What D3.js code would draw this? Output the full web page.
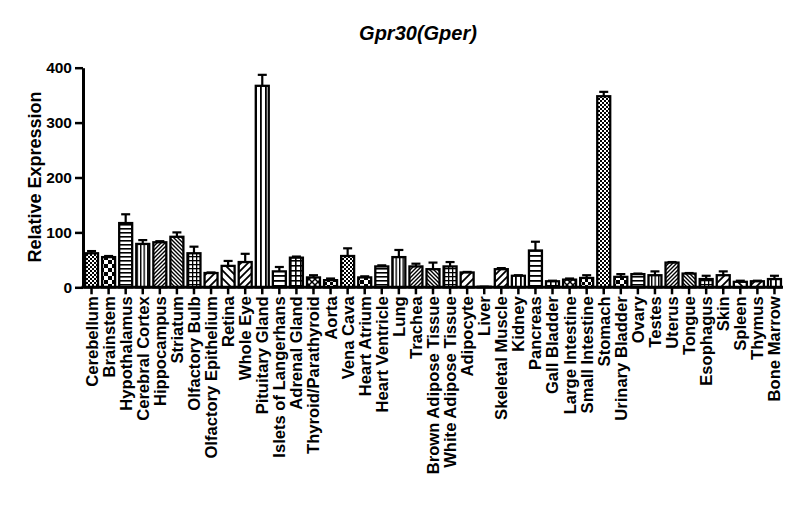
<!DOCTYPE html>
<html>
<head>
<meta charset="UTF-8">
<title>Gpr30(Gper)</title>
<script src="https://d3js.org/d3.v7.min.js"></script>
<style>
  * { margin: 0; padding: 0; box-sizing: border-box; }
  body { background: #fff; font-family: Arial, "Liberation Sans", sans-serif; }
</style>
</head>
<body>
<div id="chart"></div>
<script>
const tissues = ["Cerebellum", "Brainstem", "Hypothalamus", "Cerebral Cortex", "Hippocampus",
  "Striatum", "Olfactory Bulb", "Olfactory Epithelium", "Retina", "Whole Eye",
  "Pituitary Gland", "Islets of Langerhans", "Adrenal Gland", "Thyroid/Parathyroid", "Aorta",
  "Vena Cava", "Heart Atrium", "Heart Ventricle", "Lung", "Trachea",
  "Brown Adipose Tissue", "White Adipose Tissue", "Adipocyte", "Liver", "Skeletal Muscle",
  "Kidney", "Pancreas", "Gall Bladder", "Large Intestine", "Small Intestine",
  "Stomach", "Urinary Bladder", "Ovary", "Testes", "Uterus",
  "Tongue", "Esophagus", "Skin", "Spleen", "Thymus", "Bone Marrow"];

const expression = [62, 55, 117, 79, 82, 92, 62, 26, 39, 46,
  367, 29, 54, 18, 13, 57, 18, 38, 55, 38,
  33, 38, 27, 1, 33, 21, 67, 11, 14, 17,
  348, 19, 24, 22, 45, 25, 15, 22, 10, 11, 15];

const sem = [4, 2, 16, 7, 2, 8, 12, 1, 9, 15,
  20, 8, 2, 4, 3, 14, 2, 2, 13, 5,
  12, 8, 1, 0, 2, 1, 16, 1, 2, 5,
  8, 5, 1, 7, 1, 1, 6, 7, 2, 1, 6];

const yTicks = [0, 100, 200, 300, 400];

const W = 800, H = 528;
const x0 = 83, x1 = 783, yTop = 67.7, yBase = 287.3;

const svg = d3.select("#chart").append("svg")
  .attr("width", W).attr("height", H);

// fill patterns, cycling every 15 bars like the original
const defs = svg.append("defs");
function pat(id, size) {
  const p = defs.append("pattern").attr("id", id)
    .attr("patternUnits", "userSpaceOnUse")
    .attr("width", size).attr("height", size);
  p.append("rect").attr("width", size).attr("height", size).attr("fill", "#fff");
  return p;
}
function checker(id, c) {
  const p = pat(id, c * 2);
  p.append("rect").attr("width", c).attr("height", c).attr("fill", "#000");
  p.append("rect").attr("x", c).attr("y", c).attr("width", c).attr("height", c).attr("fill", "#000");
}
function hlines(id, s, w) {
  pat(id, s).append("rect").attr("y", 0).attr("width", s).attr("height", w).attr("fill", "#000");
}
function vlines(id, s, w) {
  pat(id, s).append("rect").attr("x", 0).attr("width", w).attr("height", s).attr("fill", "#000");
}
function grid(id, s, w) {
  const p = pat(id, s);
  p.append("rect").attr("width", s).attr("height", w).attr("fill", "#000");
  p.append("rect").attr("width", w).attr("height", s).attr("fill", "#000");
}
function diag(id, s, w, dir) {
  const p = pat(id, s);
  const d = dir > 0
    ? `M${-s},${s} L${s},${-s} M0,${s} L${s},0 M0,${2 * s} L${2 * s},0`
    : `M0,0 L${s},${s} M${-s},0 L${s},${2 * s} M0,${-s} L${2 * s},${s}`;
  p.append("path").attr("d", d).attr("stroke", "#000").attr("stroke-width", w);
}
function cross(id, s, w) {
  const p = pat(id, s);
  p.append("path").attr("d", `M0,0 L${s},${s} M${s},0 L0,${s}`)
    .attr("stroke", "#000").attr("stroke-width", w);
}

checker("p0", 2);
checker("p1", 4);
hlines("p2", 4, 1.6);
vlines("p3", 3.5, 1.4);
diag("p4", 4, 1.4, 1);
diag("p5", 4, 1.4, -1);
grid("p6", 4, 1.3);
diag("p7", 8, 1.8, 1);
diag("p8", 8, 1.8, -1);
diag("p9", 7, 1.8, 1);
vlines("p10", 5, 1.8);
hlines("p11", 5, 1.8);
grid("p12", 5, 1.6);
cross("p13", 6, 1.5);
checker("p14", 3);

const x = d3.scaleBand().domain(tissues).range([x0, x1]).paddingInner(0.24).paddingOuter(0.12);
const y = d3.scaleLinear().domain([0, 400]).range([yBase, yTop]);

const data = tissues.map((t, i) => ({ t, v: expression[i], e: sem[i], i }));

// error bars (upper only)
const eb = svg.append("g").attr("stroke", "#000").attr("stroke-width", 2.2);
data.forEach(d => {
  const cx = x(d.t) + x.bandwidth() / 2;
  eb.append("line").attr("x1", cx).attr("x2", cx)
    .attr("y1", y(d.v)).attr("y2", y(d.v + d.e));
  eb.append("line").attr("x1", cx - 4.5).attr("x2", cx + 4.5)
    .attr("y1", y(d.v + d.e)).attr("y2", y(d.v + d.e));
});

// bars
svg.append("g").selectAll("rect").data(data).join("rect")
  .attr("x", d => x(d.t))
  .attr("y", d => y(d.v))
  .attr("width", x.bandwidth())
  .attr("height", d => yBase - y(d.v))
  .attr("fill", d => `url(#p${d.i % 15})`)
  .attr("stroke", "#000")
  .attr("stroke-width", 2.3);

// y axis
const yAxis = svg.append("g")
  .attr("transform", `translate(${x0},0)`)
  .call(d3.axisLeft(y).tickValues(yTicks).tickSize(8).tickSizeOuter(0).tickPadding(3));
yAxis.select(".domain").attr("stroke-width", 3);
yAxis.selectAll(".tick line").attr("stroke-width", 2.5);
yAxis.selectAll(".tick text")
  .style("font-family", "Arial, 'Liberation Sans', sans-serif")
  .style("font-size", "15.5px").style("font-weight", "bold").attr("fill", "#000");

// x axis
const xAxis = svg.append("g")
  .attr("transform", `translate(0,${yBase})`)
  .call(d3.axisBottom(x).tickSize(7).tickSizeOuter(0));
xAxis.select(".domain").attr("stroke-width", 3)
  .attr("d", `M${x0 - 1.5},0H${x1}`);
xAxis.selectAll(".tick line").attr("stroke-width", 2.5);
xAxis.selectAll(".tick text")
  .style("font-family", "Arial, 'Liberation Sans', sans-serif")
  .style("font-size", "16.6px").style("font-weight", "bold").attr("fill", "#000")
  .attr("text-anchor", "end")
  .attr("transform", "rotate(-90)")
  .attr("x", -9).attr("y", 0).attr("dy", "0.36em");

// axis title
svg.append("text")
  .attr("transform", `translate(41,177) rotate(-90)`)
  .attr("text-anchor", "middle")
  .style("font-size", "18px").style("font-weight", "bold")
  .text("Relative Expression");

// chart title
svg.append("text")
  .attr("x", 418).attr("y", 40)
  .attr("text-anchor", "middle")
  .style("font-size", "20px").style("font-weight", "bold").style("font-style", "italic")
  .text("Gpr30(Gper)");
</script>
</body>
</html>
